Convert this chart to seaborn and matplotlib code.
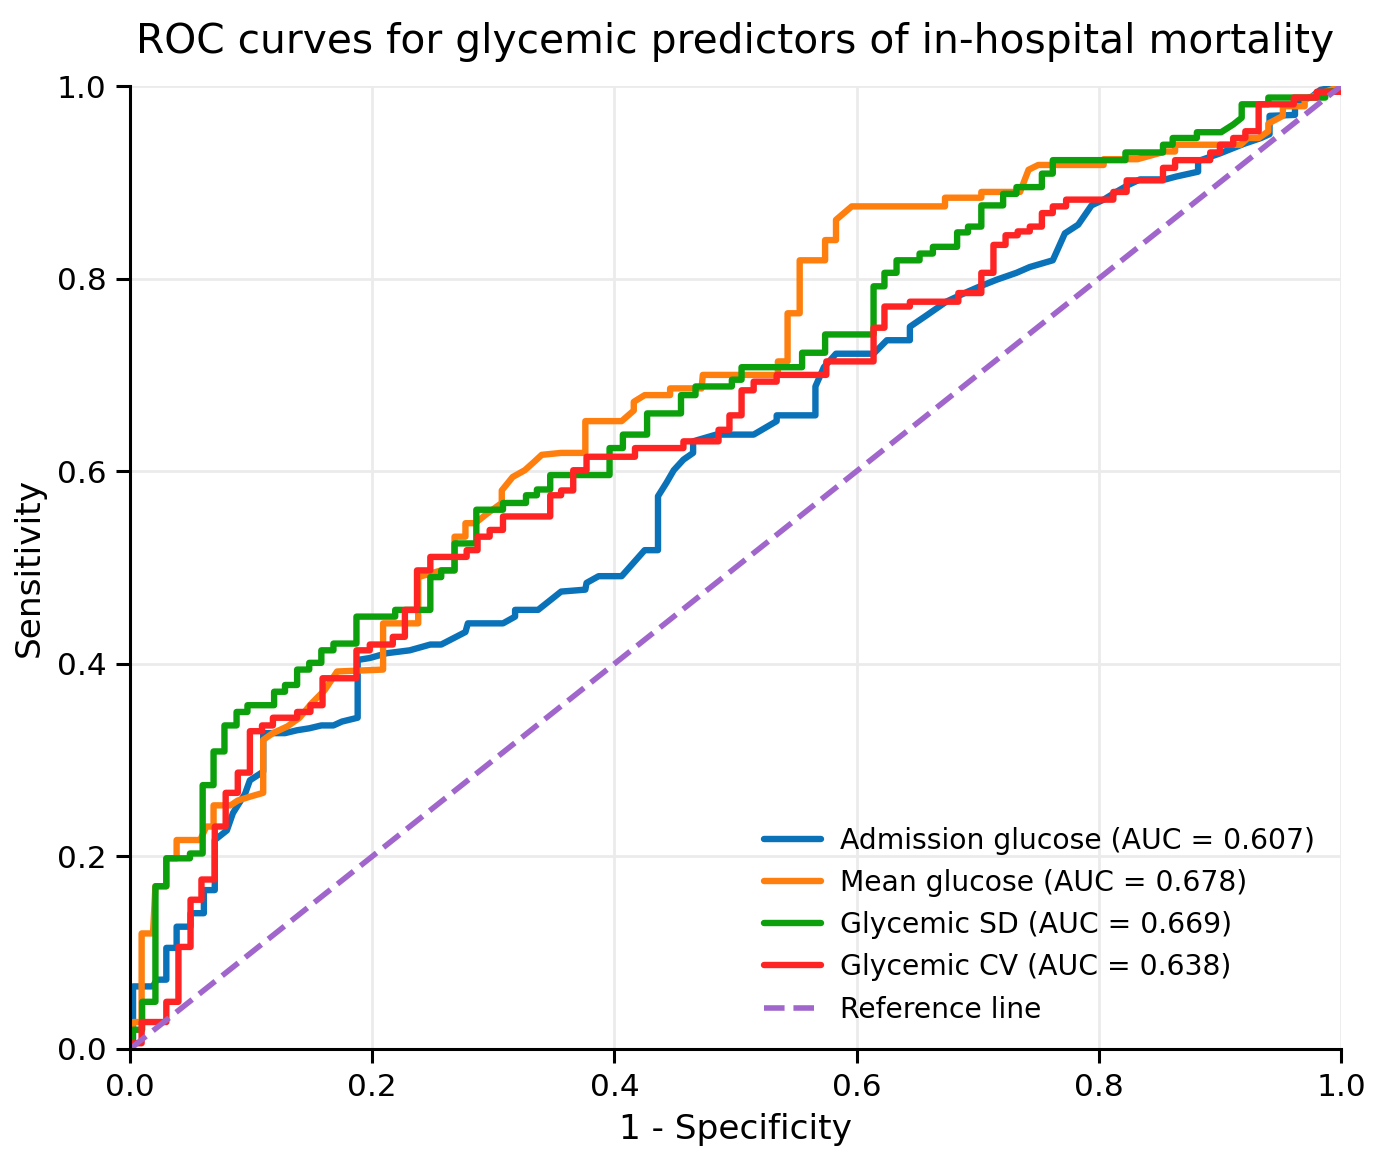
import matplotlib
matplotlib.use("Agg")
import matplotlib.pyplot as plt
import seaborn as sns
import pandas as pd

# ROC curve vertices (fpr, tpr)
admission_roc = [
    (0, 0), (0.0025, 0.0), (0.0025, 0.065), (0.019, 0.065), (0.022, 0.072), (0.030, 0.072),
    (0.030, 0.105), (0.0385, 0.105), (0.0385, 0.127), (0.050, 0.127), (0.050, 0.141),
    (0.061, 0.141), (0.061, 0.165), (0.070, 0.165), (0.070, 0.217), (0.080, 0.227),
    (0.085, 0.245), (0.095, 0.265), (0.099, 0.279), (0.110, 0.288), (0.110, 0.328),
    (0.128, 0.328), (0.138, 0.331), (0.148, 0.333), (0.158, 0.336), (0.168, 0.336),
    (0.175, 0.340), (0.188, 0.344), (0.188, 0.404), (0.198, 0.406), (0.212, 0.411),
    (0.231, 0.414), (0.248, 0.420), (0.257, 0.420), (0.277, 0.433), (0.279, 0.442),
    (0.308, 0.442), (0.318, 0.449), (0.318, 0.456), (0.337, 0.456), (0.356, 0.475),
    (0.376, 0.477), (0.377, 0.484), (0.387, 0.491), (0.406, 0.491), (0.425, 0.518),
    (0.436, 0.518), (0.436, 0.574), (0.443, 0.588), (0.449, 0.601), (0.457, 0.612),
    (0.465, 0.619), (0.465, 0.631), (0.484, 0.638), (0.515, 0.638), (0.534, 0.652),
    (0.534, 0.658), (0.566, 0.658), (0.566, 0.688), (0.573, 0.708), (0.583, 0.722),
    (0.614, 0.722), (0.625, 0.736), (0.644, 0.736), (0.644, 0.750), (0.658, 0.762),
    (0.674, 0.776), (0.691, 0.786), (0.702, 0.792), (0.716, 0.799), (0.732, 0.806),
    (0.743, 0.812), (0.762, 0.819), (0.772, 0.847), (0.783, 0.856), (0.794, 0.876),
    (0.804, 0.882), (0.813, 0.889), (0.824, 0.897), (0.834, 0.903), (0.855, 0.903),
    (0.864, 0.906), (0.882, 0.911), (0.882, 0.922), (0.900, 0.930), (0.920, 0.940),
    (0.934, 0.946), (0.941, 0.950), (0.941, 0.969), (0.962, 0.970), (0.962, 0.982),
    (0.976, 0.989), (0.983, 0.996), (1.0, 1.0),
]

mean_roc = [
    (0, 0), (0.0025, 0.028), (0.0096, 0.028), (0.0096, 0.120), (0.019, 0.120),
    (0.021, 0.169), (0.030, 0.169), (0.030, 0.198), (0.0385, 0.198), (0.0385, 0.217),
    (0.058, 0.217), (0.063, 0.231), (0.069, 0.231), (0.069, 0.253), (0.083, 0.253),
    (0.089, 0.258), (0.099, 0.262), (0.110, 0.266), (0.110, 0.321), (0.118, 0.328),
    (0.130, 0.335), (0.140, 0.344), (0.150, 0.359), (0.161, 0.373), (0.171, 0.392),
    (0.209, 0.394), (0.209, 0.442), (0.238, 0.442), (0.238, 0.490), (0.257, 0.497),
    (0.268, 0.497), (0.268, 0.532), (0.277, 0.532), (0.277, 0.546), (0.285, 0.546),
    (0.295, 0.556), (0.307, 0.567), (0.307, 0.580), (0.316, 0.594), (0.326, 0.601),
    (0.334, 0.610), (0.340, 0.617), (0.356, 0.619), (0.376, 0.619), (0.376, 0.652),
    (0.406, 0.652), (0.416, 0.663), (0.416, 0.672), (0.425, 0.679), (0.446, 0.679),
    (0.446, 0.686), (0.472, 0.686), (0.473, 0.700), (0.535, 0.700), (0.535, 0.714),
    (0.543, 0.714), (0.543, 0.764), (0.553, 0.764), (0.553, 0.819), (0.574, 0.819),
    (0.574, 0.840), (0.583, 0.840), (0.583, 0.861), (0.596, 0.875), (0.673, 0.875),
    (0.673, 0.884), (0.703, 0.884), (0.703, 0.890), (0.735, 0.890), (0.742, 0.913),
    (0.750, 0.918), (0.804, 0.918), (0.804, 0.924), (0.832, 0.924), (0.855, 0.932),
    (0.863, 0.932), (0.863, 0.939), (0.917, 0.939), (0.923, 0.946), (0.932, 0.946),
    (0.940, 0.953), (0.940, 0.961), (0.952, 0.969), (0.952, 0.979), (0.970, 0.979),
    (0.970, 0.986), (1.0, 1.0),
]

sd_roc = [
    (0, 0), (0.0025, 0.020), (0.010, 0.020), (0.010, 0.049), (0.021, 0.049),
    (0.021, 0.169), (0.030, 0.169), (0.030, 0.198), (0.0495, 0.198), (0.0495, 0.203),
    (0.060, 0.203), (0.060, 0.274), (0.069, 0.274), (0.069, 0.309), (0.078, 0.309),
    (0.078, 0.336), (0.088, 0.336), (0.088, 0.350), (0.097, 0.350), (0.097, 0.357),
    (0.119, 0.357), (0.119, 0.371), (0.128, 0.371), (0.128, 0.378), (0.138, 0.378),
    (0.138, 0.394), (0.148, 0.394), (0.148, 0.401), (0.158, 0.401), (0.158, 0.414),
    (0.168, 0.414), (0.168, 0.421), (0.187, 0.421), (0.187, 0.449), (0.219, 0.449),
    (0.219, 0.456), (0.248, 0.456), (0.248, 0.490), (0.257, 0.490), (0.257, 0.497),
    (0.268, 0.497), (0.268, 0.525), (0.286, 0.525), (0.286, 0.560), (0.308, 0.560),
    (0.308, 0.567), (0.327, 0.567), (0.327, 0.575), (0.336, 0.575), (0.336, 0.581),
    (0.347, 0.581), (0.347, 0.596), (0.396, 0.596), (0.396, 0.624), (0.407, 0.624),
    (0.407, 0.638), (0.427, 0.638), (0.427, 0.660), (0.455, 0.660), (0.455, 0.679),
    (0.467, 0.679), (0.467, 0.688), (0.497, 0.688), (0.497, 0.695), (0.505, 0.695),
    (0.505, 0.708), (0.555, 0.708), (0.555, 0.723), (0.574, 0.723), (0.574, 0.742),
    (0.614, 0.742), (0.614, 0.792), (0.623, 0.792), (0.623, 0.806), (0.633, 0.806),
    (0.633, 0.819), (0.652, 0.819), (0.652, 0.826), (0.663, 0.826), (0.663, 0.833),
    (0.683, 0.833), (0.683, 0.848), (0.692, 0.848), (0.692, 0.854), (0.703, 0.854),
    (0.703, 0.876), (0.721, 0.876), (0.721, 0.888), (0.732, 0.888), (0.732, 0.895),
    (0.753, 0.895), (0.753, 0.909), (0.762, 0.909), (0.762, 0.923), (0.822, 0.923),
    (0.822, 0.931), (0.853, 0.931), (0.853, 0.939), (0.861, 0.939), (0.861, 0.946),
    (0.881, 0.946), (0.881, 0.952), (0.901, 0.952), (0.911, 0.960), (0.918, 0.967),
    (0.918, 0.981), (0.940, 0.981), (0.940, 0.988), (0.987, 0.988), (0.987, 0.994),
    (1.0, 0.995),
]

cv_roc = [
    (0, 0), (0.0025, 0.006), (0.0096, 0.006), (0.0096, 0.028), (0.030, 0.028),
    (0.030, 0.049), (0.040, 0.049), (0.040, 0.106), (0.050, 0.106), (0.050, 0.155),
    (0.059, 0.155), (0.059, 0.176), (0.070, 0.176), (0.070, 0.231), (0.079, 0.231),
    (0.079, 0.266), (0.089, 0.266), (0.089, 0.287), (0.099, 0.287), (0.099, 0.330),
    (0.109, 0.330), (0.109, 0.336), (0.118, 0.336), (0.118, 0.344), (0.138, 0.344),
    (0.138, 0.350), (0.149, 0.350), (0.149, 0.357), (0.159, 0.357), (0.159, 0.385),
    (0.187, 0.385), (0.187, 0.414), (0.198, 0.414), (0.198, 0.420), (0.217, 0.420),
    (0.217, 0.428), (0.227, 0.428), (0.227, 0.456), (0.237, 0.456), (0.237, 0.497),
    (0.248, 0.497), (0.248, 0.511), (0.278, 0.511), (0.278, 0.518), (0.287, 0.518),
    (0.287, 0.532), (0.297, 0.532), (0.297, 0.539), (0.308, 0.539), (0.308, 0.553),
    (0.347, 0.553), (0.347, 0.575), (0.356, 0.575), (0.356, 0.580), (0.366, 0.580),
    (0.366, 0.601), (0.377, 0.601), (0.377, 0.615), (0.417, 0.615), (0.417, 0.624),
    (0.457, 0.624), (0.457, 0.631), (0.486, 0.631), (0.486, 0.643), (0.495, 0.643),
    (0.495, 0.658), (0.505, 0.658), (0.505, 0.684), (0.515, 0.684), (0.515, 0.693),
    (0.534, 0.693), (0.534, 0.700), (0.575, 0.700), (0.575, 0.714), (0.614, 0.714),
    (0.614, 0.749), (0.623, 0.749), (0.623, 0.771), (0.644, 0.771), (0.644, 0.776),
    (0.684, 0.776), (0.684, 0.785), (0.703, 0.785), (0.703, 0.806), (0.713, 0.806),
    (0.713, 0.835), (0.723, 0.835), (0.723, 0.845), (0.733, 0.845), (0.733, 0.849),
    (0.743, 0.849), (0.743, 0.854), (0.753, 0.854), (0.753, 0.868), (0.762, 0.868),
    (0.762, 0.875), (0.773, 0.875), (0.773, 0.882), (0.812, 0.882), (0.812, 0.890),
    (0.823, 0.890), (0.823, 0.902), (0.853, 0.902), (0.853, 0.915), (0.863, 0.915),
    (0.863, 0.923), (0.892, 0.923), (0.892, 0.931), (0.900, 0.931), (0.900, 0.939),
    (0.911, 0.939), (0.911, 0.946), (0.921, 0.946), (0.921, 0.953), (0.932, 0.953),
    (0.932, 0.981), (0.961, 0.981), (0.961, 0.988), (0.980, 0.988), (0.980, 0.994),
    (1.0, 0.994), (1.0, 1.0),
]

labels = [
    "Admission glucose (AUC = 0.607)",
    "Mean glucose (AUC = 0.678)",
    "Glycemic SD (AUC = 0.669)",
    "Glycemic CV (AUC = 0.638)",
]
curves = [admission_roc, mean_roc, sd_roc, cv_roc]
colors = ["#0a72b8", "#ff7f0e", "#0ca00c", "#ff2424"]
ref_color = "#a066cc"

sns.set_style("ticks", {"axes.grid": True, "grid.color": "#ebebeb",
                        "axes.edgecolor": "black", "text.color": "black",
                        "axes.labelcolor": "black", "xtick.color": "black",
                        "ytick.color": "black"})
plt.rcParams["font.family"] = ["DejaVu Sans"]

fig = plt.figure(figsize=(1379 / 200, 1162 / 200), dpi=200)
ax = fig.add_axes([130 / 1379, 1 - 1049 / 1162, (1341 - 130) / 1379, (1049 - 86) / 1162])

for pts, lab, col in zip(curves, labels, colors):
    df = pd.DataFrame(pts, columns=["fpr", "tpr"])
    sns.lineplot(data=df, x="fpr", y="tpr", sort=False, estimator=None,
                 color=col, linewidth=2.3, label=lab, ax=ax)

ref = pd.DataFrame({"fpr": [0, 1], "tpr": [0, 1]})
sns.lineplot(data=ref, x="fpr", y="tpr", color=ref_color, linestyle="--",
             linewidth=2.0, label="Reference line", ax=ax)

ax.set_xlim(0, 1)
ax.set_ylim(0, 1)
ax.set_xticks([0, 0.2, 0.4, 0.6, 0.8, 1.0])
ax.set_yticks([0, 0.2, 0.4, 0.6, 0.8, 1.0])
ax.tick_params(labelsize=11.2, length=5, width=1.1, colors="black")
ax.set_xlabel("1 - Specificity", fontsize=12.4, color="black")
ax.set_ylabel("Sensitivity", fontsize=12.4, color="black")
ax.set_title("ROC curves for glycemic predictors of in-hospital mortality",
             fontsize=14.7, pad=12, color="black")
ax.grid(True, color="#ebebeb", linewidth=1)
for s in ["left", "bottom"]:
    ax.spines[s].set_linewidth(1.1)
sns.despine(ax=ax)

ax.legend(loc="lower right", frameon=False, fontsize=10.2, handletextpad=0.7)

fig.savefig("out.png", dpi=200)
